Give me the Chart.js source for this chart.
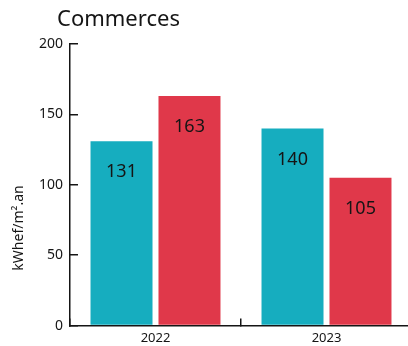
<!DOCTYPE html>
<html>
<head>
<meta charset="utf-8">
<script src="https://cdn.jsdelivr.net/npm/chart.js@4"></script>
<style>
  html, body { margin: 0; padding: 0; background: #fff; overflow: hidden; }
  #wrap { width: 412px; height: 349px; }
</style>
</head>
<body>
<div id="wrap"><canvas id="graphchart"></canvas></div>
<script>
var years = ['2022', '2023']
var serieA = [131, 140]
var serieB = [163, 105]
var yTicks = [0, 50, 100, 150, 200]
var titre = 'Commerces'
var uniteY = 'kWhef/m\u00b2.an'

var police = '"Noto Sans", "DejaVu Sans", sans-serif'
var noir = '#151515'

// titre, libellé de l'axe Y et valeurs dans les barres
var decor = {
    id: 'decor',
    afterDatasetsDraw: function (chart) {
        var ctx = chart.ctx
        ctx.save()
        ctx.fillStyle = noir
        ctx.font = '22px ' + police
        ctx.textAlign = 'left'
        ctx.textBaseline = 'alphabetic'
        ctx.fillText(titre, 57, 26)

        ctx.font = '14px ' + police
        ctx.translate(23, 228)
        ctx.rotate(-Math.PI / 2)
        ctx.textAlign = 'center'
        ctx.fillText(uniteY, 0, 0)
        ctx.restore()

        ctx.save()
        ctx.fillStyle = noir
        ctx.font = '18px ' + police
        ctx.textAlign = 'center'
        ctx.textBaseline = 'middle'
        chart.data.datasets.forEach(function (ds, i) {
            chart.getDatasetMeta(i).data.forEach(function (bar, j) {
                ctx.fillText(String(ds.data[j]), bar.x, bar.y + 31)
            })
        })
        ctx.restore()
    }
}

function showgraphic() {
    var ctx = document.getElementById('graphchart')

    new Chart(ctx, {
        type: 'bar',
        data: {
            labels: years,
            datasets: [{
                data: serieA,
                backgroundColor: '#16adbf',
                categoryPercentage: 0.795,
                barPercentage: 0.912
            }, {
                data: serieB,
                backgroundColor: '#e0384a',
                categoryPercentage: 0.795,
                barPercentage: 0.912
            }]
        },
        options: {
            responsive: true,
            maintainAspectRatio: false,
            animation: false,
            layout: { padding: { top: 44, right: 0, bottom: 0, left: 0 } },
            scales: {
                x: {
                    offset: true,
                    border: { color: noir, width: 1.5 },
                    grid: { drawOnChartArea: false, offset: true, tickLength: -7, color: noir, lineWidth: 1.5 },
                    ticks: { color: noir, font: { family: police, size: 13 }, padding: 12 },
                    afterFit: function (scale) { scale.height = 18 }
                },
                y: {
                    min: 0,
                    max: 200,
                    afterBuildTicks: function (scale) {
                        scale.ticks = yTicks.map(function (v) { return { value: v } })
                    },
                    border: { color: noir, width: 1.5 },
                    grid: { drawOnChartArea: false, tickLength: -8, color: noir, lineWidth: 1.5 },
                    ticks: { color: noir, font: { family: police, size: 14 }, padding: 15 },
                    afterFit: function (scale) { scale.width = 70 }
                }
            },
            plugins: {
                legend: { display: false },
                title: { display: false },
                tooltip: { enabled: false }
            }
        },
        plugins: [decor]
    })
}

document.addEventListener('DOMContentLoaded', showgraphic)
</script>
</body>
</html>
